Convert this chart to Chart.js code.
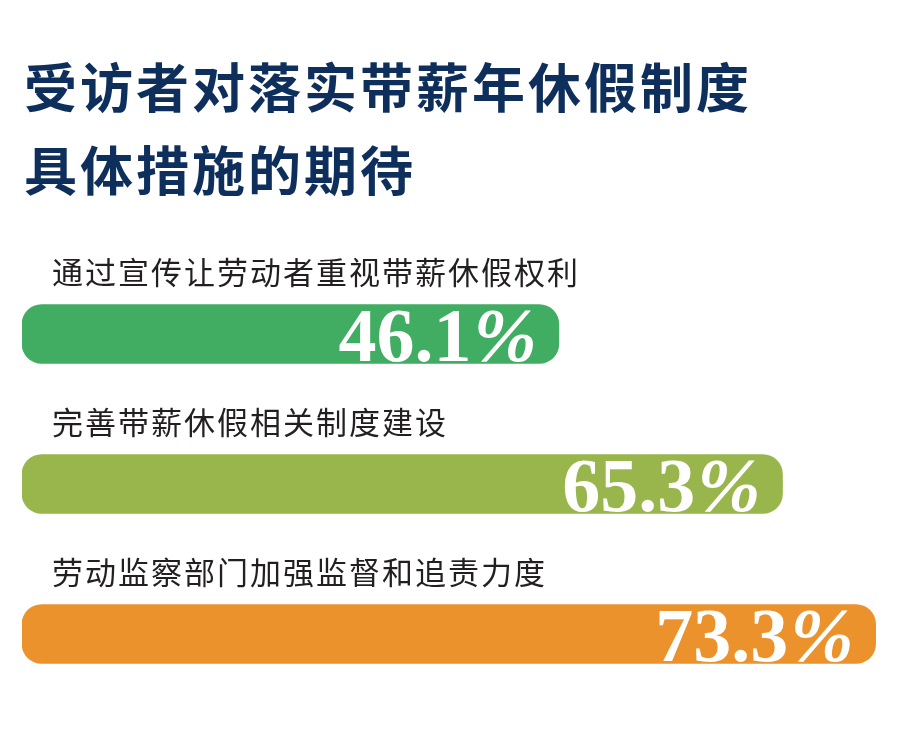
<!DOCTYPE html>
<html>
<head>
<meta charset="utf-8">
<script src="https://cdn.jsdelivr.net/npm/chart.js@4"></script>
<style>
    body { margin: 0; background: #ffffff; }
    #wrap { width: 900px; height: 737px; }
</style>
</head>
<body>
<div id="wrap"><canvas id="expectations" width="900" height="737"></canvas></div>
<script>
// Survey: what respondents expect from paid annual leave measures (%)
const titleLines = ['受访者对落实带薪年休假制度', '具体措施的期待'];
const categories = ['通过宣传让劳动者重视带薪休假权利', '完善带薪休假相关制度建设', '劳动监察部门加强监督和追责力度'];
const values = [46.1, 65.3, 73.3];
const barColors = ['#41ad62', '#98b64c', '#ec922c'];

// draws the heading, the label above each bar and the value inside it
const textPlugin = {
    id: 'barText',
    afterDatasetsDraw(chart) {
        const ctx = chart.ctx;
        const meta = chart.getDatasetMeta(0);
        ctx.save();

        ctx.fillStyle = '#0e2f5b';
        ctx.font = 'bold 53px "Noto Sans CJK SC", sans-serif';
        ctx.textBaseline = 'middle';
        ctx.textAlign = 'left';
        ctx.letterSpacing = '3px';
        titleLines.forEach((line, i) => {
            ctx.fillText(line, 24, 88 + i * 83);
        });

        meta.data.forEach((bar, i) => {
            ctx.fillStyle = '#231f20';
            ctx.font = '31px "Noto Sans CJK SC", sans-serif';
            ctx.letterSpacing = '2px';
            ctx.textAlign = 'left';
            ctx.textBaseline = 'middle';
            ctx.fillText(categories[i], 52, bar.y - 62);

            // number upright, percent sign slanted like the original
            ctx.fillStyle = '#ffffff';
            ctx.letterSpacing = '0px';
            ctx.textBaseline = 'alphabetic';
            ctx.textAlign = 'right';
            ctx.font = 'bold italic 76px "Liberation Serif", "Times New Roman", serif';
            const pctW = ctx.measureText('%').width;
            ctx.fillText('%', bar.x - 22, bar.y + 27);
            ctx.font = 'bold 76px "Liberation Serif", "Times New Roman", serif';
            ctx.fillText(values[i].toFixed(1), bar.x - 22 - pctW - 2, bar.y + 27);
        });
        ctx.restore();
    }
};

new Chart(document.getElementById('expectations'), {
    type: 'bar',
    data: {
        labels: categories,
        datasets: [{
            data: values,
            backgroundColor: barColors,
            borderRadius: 20,
            borderSkipped: false,
            barThickness: 59
        }]
    },
    options: {
        indexAxis: 'y',
        responsive: false,
        animation: false,
        layout: {
            padding: { top: 259, bottom: 28, left: 22, right: 22 }
        },
        scales: {
            x: { display: false, min: 0, max: 73.5 },
            y: { display: false }
        },
        plugins: {
            legend: { display: false },
            title: { display: false },
            tooltip: { enabled: false }
        }
    },
    plugins: [textPlugin]
});
</script>
</body>
</html>
